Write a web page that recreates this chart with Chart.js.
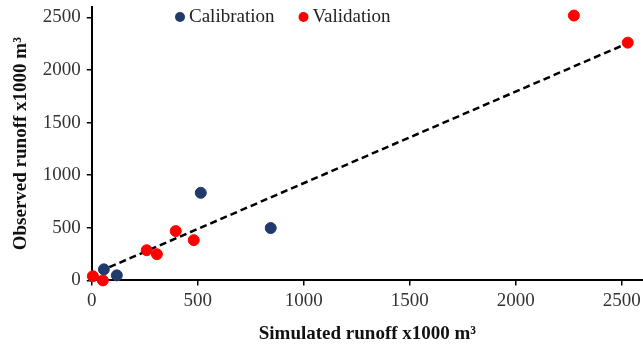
<!DOCTYPE html>
<html>
<head>
<meta charset="utf-8">
<script src="https://cdn.jsdelivr.net/npm/chart.js@4.4.1/dist/chart.umd.min.js"></script>
<style>
  html, body { margin: 0; padding: 0; background: #fff; }
  #wrap { position: relative; width: 643px; height: 352px; }
</style>
</head>
<body>
<div id="wrap"><canvas id="chart-runoff" width="643" height="352"></canvas></div>
<script>
const calibrationX = [57, 118, 514, 844];
const calibrationY = [105, 48, 833, 498];
const validationX = [5, 52, 259, 307, 396, 481, 2274, 2528];
const validationY = [40, 0, 287, 249, 469, 383, 2519, 2261];
const trendX = [35, 2540];
const trendSlope = 0.871;
const trendIntercept = 54;
const xTicks = [0, 500, 1000, 1500, 2000, 2500];
const yTicks = [0, 500, 1000, 1500, 2000, 2500];

const SERIF = "'Liberation Serif', 'Times New Roman', serif";
const NAVY = '#1f3a6b';
const RED = '#ff0000';

const toPoints = (xs, ys) => xs.map((x, i) => ({ x: x, y: ys[i] }));

// legend drawn inside the plot, left of centre like the original
const innerLegend = {
  id: 'innerLegend',
  afterDraw(chart) {
    const ctx = chart.ctx;
    ctx.save();
    ctx.font = '19px ' + SERIF;
    ctx.textBaseline = 'middle';
    let x = 175;
    const y = 17;
    chart.data.datasets.slice(0, 2).forEach(ds => {
      ctx.fillStyle = ds.backgroundColor;
      ctx.beginPath();
      ctx.arc(x + 5, y, 5, 0, Math.PI * 2);
      ctx.fill();
      ctx.fillStyle = '#222';
      ctx.fillText(ds.label, x + 14, y);
      x += 14 + ctx.measureText(ds.label).width + 24;
    });
    ctx.restore();
  }
};

new Chart(document.getElementById('chart-runoff'), {
  type: 'scatter',
  data: {
    datasets: [
      {
        label: 'Calibration',
        data: toPoints(calibrationX, calibrationY),
        backgroundColor: NAVY,
        borderColor: NAVY,
        pointRadius: 5.5,
        clip: false
      },
      {
        label: 'Validation',
        data: toPoints(validationX, validationY),
        backgroundColor: RED,
        borderColor: RED,
        pointRadius: 5.5,
        clip: false
      },
      {
        label: 'Trend',
        type: 'line',
        data: trendX.map(x => ({ x: x, y: trendSlope * x + trendIntercept })),
        borderColor: '#000',
        borderWidth: 2.5,
        borderDash: [7, 4],
        pointRadius: 0,
        fill: false,
        order: 5,
        clip: false
      }
    ]
  },
  options: {
    responsive: false,
    animation: false,
    devicePixelRatio: 1,
    layout: { autoPadding: false, padding: { top: 7, right: 0, bottom: 7, left: 10 } },
    scales: {
      x: {
        type: 'linear',
        min: 0,
        max: 2600,
        afterBuildTicks: axis => { axis.ticks = xTicks.map(v => ({ value: v })); },
        afterFit: axis => { axis.paddingRight = 0; axis.paddingLeft = 0; },
        ticks: { color: '#333', font: { family: SERIF, size: 19 }, padding: 4, maxRotation: 0, callback: v => String(v) },
        grid: { display: true, drawOnChartArea: false, drawTicks: true, tickLength: 5, color: '#000', lineWidth: 1.5 },
        border: { display: true, color: '#000', width: 2 },
        title: { display: true, text: 'Simulated runoff x1000 m³', color: '#111', font: { family: SERIF, size: 19, weight: 'bold' }, padding: { top: 6, bottom: 0 } }
      },
      y: {
        type: 'linear',
        min: 0,
        max: 2600,
        afterBuildTicks: axis => { axis.ticks = yTicks.map(v => ({ value: v })); },
        afterFit: axis => { axis.paddingTop = 0; axis.paddingBottom = 0; },
        ticks: { color: '#333', font: { family: SERIF, size: 19 }, padding: 6, callback: v => String(v) },
        grid: { display: true, drawOnChartArea: false, drawTicks: true, tickLength: 5, color: '#000', lineWidth: 1.5 },
        border: { display: true, color: '#000', width: 2 },
        title: { display: true, text: 'Observed runoff x1000 m³', color: '#111', font: { family: SERIF, size: 19, weight: 'bold' }, padding: { top: 0, bottom: 4 } }
      }
    },
    plugins: {
      legend: { display: false },
      tooltip: { enabled: false }
    }
  },
  plugins: [innerLegend]
});
</script>
</body>
</html>
